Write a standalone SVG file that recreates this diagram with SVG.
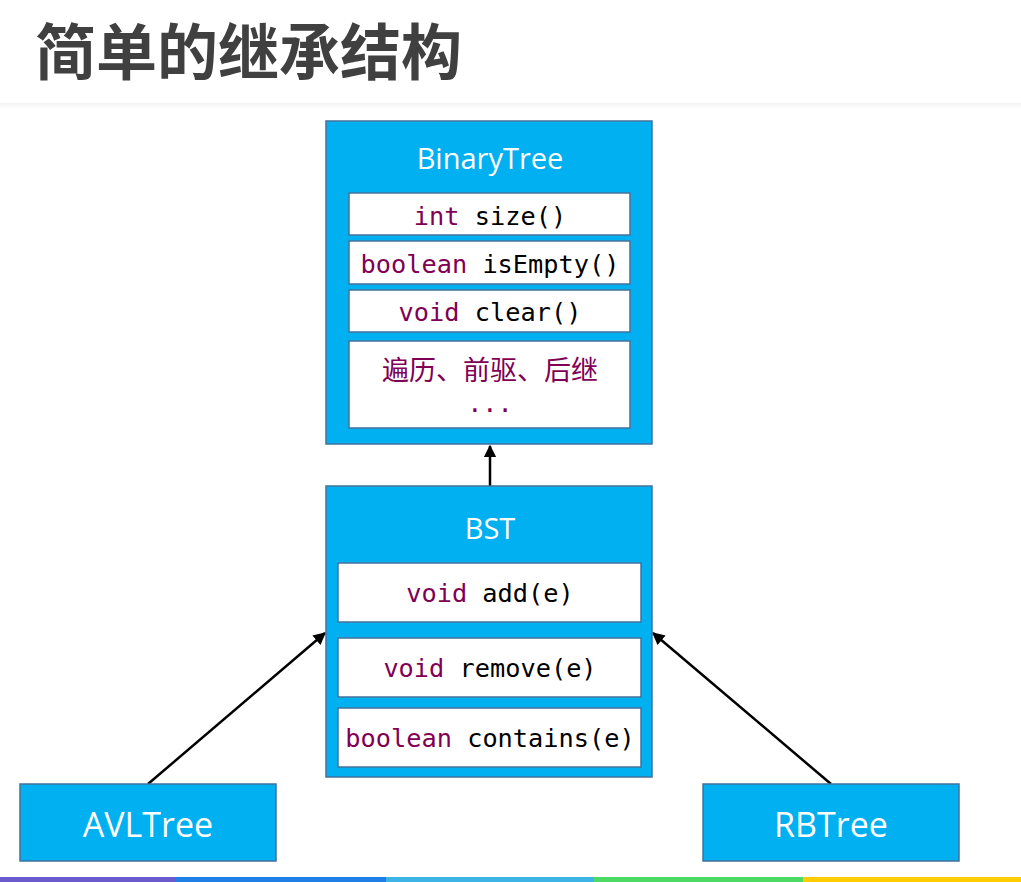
<svg xmlns="http://www.w3.org/2000/svg" width="1021" height="882" viewBox="0 0 1021 882">
<defs>
<style>
.box{fill:#00B0F0;stroke:#41719C;stroke-width:1.5}
.cell{fill:#FFFFFF;stroke:#41719C;stroke-width:1.5}
.code{font-family:"DejaVu Sans Mono","Liberation Mono",monospace;font-size:25.3px;text-anchor:middle;fill:#000000}
.kw{fill:#7F0055}
.name{font-family:"Open Sans","Noto Sans",sans-serif;fill:#FFFFFF;text-anchor:middle}
.edge{stroke:#000000;stroke-width:2.5;fill:none;marker-end:url(#arr)}
</style>
<marker id="arr" viewBox="0 0 10 10" refX="9" refY="5" markerWidth="5" markerHeight="5" orient="auto-start-reverse">
<path d="M0,0 L10,5 L0,10 z" fill="#000000"/>
</marker>
<linearGradient id="hdr" x1="0" y1="0" x2="0" y2="1">
<stop offset="0" stop-color="#F2F2F2"/>
<stop offset="1" stop-color="#FFFFFF"/>
</linearGradient>
</defs>
<rect x="0" y="0" width="1021" height="882" fill="#FFFFFF"/>
<rect x="0" y="103" width="1021" height="6" fill="url(#hdr)"/>
<text x="35" y="75" font-family="Noto Sans CJK SC,sans-serif" font-weight="bold" font-size="61" fill="#404040">简单的继承结构</text>

<g id="connectors">
<line class="edge" x1="490" y1="486" x2="490" y2="446"/>
<line class="edge" x1="148" y1="784" x2="325" y2="633"/>
<line class="edge" x1="831" y1="784" x2="653" y2="633"/>
</g>

<g id="BinaryTree">
<rect class="box" x="326" y="121" width="326" height="323"/>
<text class="name" x="490" y="169" font-size="29">BinaryTree</text>
<rect class="cell" x="349" y="193" width="281" height="42"/>
<text class="code" x="490" y="225"><tspan class="kw">int</tspan> size()</text>
<rect class="cell" x="349" y="241" width="281" height="43"/>
<text class="code" x="490" y="273"><tspan class="kw">boolean</tspan> isEmpty()</text>
<rect class="cell" x="349" y="290" width="281" height="42"/>
<text class="code" x="490" y="321"><tspan class="kw">void</tspan> clear()</text>
<rect class="cell" x="349" y="341" width="281" height="87"/>
<text x="490" y="380" font-family="Noto Sans CJK SC,sans-serif" font-size="27" fill="#7F0055" text-anchor="middle">遍历、前驱、后继</text>
<text class="code" x="490" y="412" style="fill:#7F0055">...</text>
</g>

<g id="BST">
<rect class="box" x="326" y="486" width="326" height="291"/>
<text class="name" x="490" y="539" font-size="29">BST</text>
<rect class="cell" x="338" y="563" width="303" height="59"/>
<text class="code" x="490" y="602"><tspan class="kw">void</tspan> add(e)</text>
<rect class="cell" x="338" y="638" width="303" height="59"/>
<text class="code" x="490" y="677"><tspan class="kw">void</tspan> remove(e)</text>
<rect class="cell" x="338" y="708" width="303" height="59"/>
<text class="code" x="490" y="747"><tspan class="kw">boolean</tspan> contains(e)</text>
</g>

<g id="AVLTree">
<rect class="box" x="20" y="784" width="256" height="77"/>
<text class="name" x="148" y="837" font-size="34">AVLTree</text>
</g>

<g id="RBTree">
<rect class="box" x="703" y="784" width="256" height="77"/>
<text class="name" x="831" y="837" font-size="34">RBTree</text>
</g>

<rect x="0" y="877" width="176" height="5" fill="#6A5ACD"/>
<rect x="176" y="877" width="210" height="5" fill="#1E7FE6"/>
<rect x="386" y="877" width="208" height="5" fill="#3CB4E6"/>
<rect x="594" y="877" width="209" height="5" fill="#4CD964"/>
<rect x="803" y="877" width="218" height="5" fill="#FFCC00"/>
</svg>
